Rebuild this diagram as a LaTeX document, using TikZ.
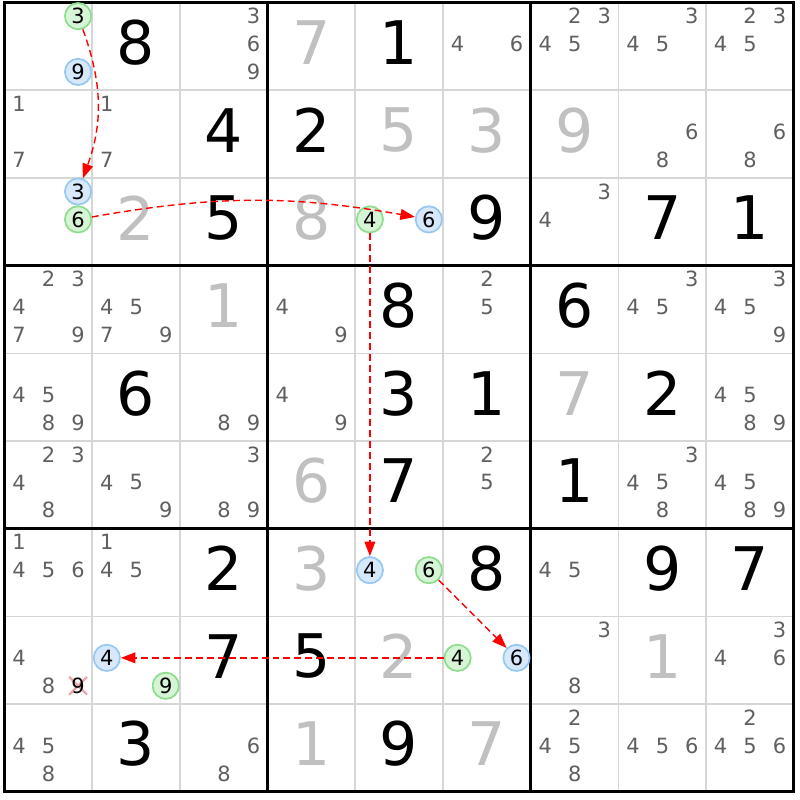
\documentclass[tikz,border=0pt]{standalone}
\usepackage{fontspec}
\setmainfont{DejaVu Sans}
\usetikzlibrary{arrows.meta,shapes.misc}

\definecolor{solvedgray}{HTML}{C0C0C0}
\definecolor{candgray}{HTML}{5F5F5F}
\definecolor{gridgray}{HTML}{D6D6D6}
\definecolor{greenfill}{HTML}{D6F4D6}
\definecolor{greenline}{HTML}{8EDC8E}
\definecolor{bluefill}{HTML}{D6E8FA}
\definecolor{blueline}{HTML}{96C8F2}
\definecolor{crosspink}{HTML}{F2A0A8}

\begin{document}
\begin{tikzpicture}[x=2cm,y=-2cm,
    given/.style={inner sep=0pt,font=\fontsize{39}{39}\selectfont},
    solved/.style={given,text=solvedgray},
    cand/.style={inner sep=0pt,text=candgray,font=\fontsize{13.6}{14}\selectfont},
    greencand/.style={circle,draw=greenline,fill=greenfill,line width=1.1pt,
        minimum size=0.6cm,inner sep=0pt,font=\fontsize{13.6}{14}\selectfont},
    bluecand/.style={greencand,draw=blueline,fill=bluefill},
    gonecand/.style={cross out,draw=crosspink,line width=1.4pt,minimum size=0.36cm,inner sep=0pt},
    link/.style={red,line width=0.9pt,dash pattern=on 4.5pt off 2.6pt,
        -{Triangle[length=9.5pt,width=7pt]}}]
    \useasboundingbox (-0.051,-0.029) rectangle (9.071,9.094);
    % thin cell lines, then box lines
    \foreach \i in {1,2,4,5,7,8} {
        \draw[gridgray,line width=1pt] (\i,0) -- (\i,9);
        \draw[gridgray,line width=1pt] (0,\i) -- (9,\i);
    }
    \foreach \i in {3,6} {
        \draw[line width=2pt] (\i,0) -- (\i,9);
        \draw[line width=2pt] (0,\i) -- (9,\i);
    }
    \draw[line width=2pt] (0,0) rectangle (9,9);
    % givens and solved cells
    \foreach \r/\c/\v in {0/1/8,0/4/1,1/2/4,1/3/2,2/2/5,2/5/9,2/7/7,2/8/1,3/4/8,3/6/6,
        4/1/6,4/4/3,4/5/1,4/7/2,5/4/7,5/6/1,6/2/2,6/5/8,6/7/9,6/8/7,7/2/7,7/3/5,8/1/3,8/4/9}
        \node[given] at (\c+0.5,\r+0.455) {\v};
    \foreach \r/\c/\v in {0/3/7,1/4/5,1/5/3,1/6/9,2/1/2,2/3/8,3/2/1,4/6/7,5/3/6,6/3/3,
        7/4/2,7/7/1,8/3/1,8/5/7}
        \node[solved] at (\c+0.5,\r+0.455) {\v};
    % pencil marks
    \foreach \r/\c/\ds in {0/2/{3,6,9},0/5/{4,6},0/6/{2,3,4,5},0/7/{3,4,5},0/8/{2,3,4,5},
        1/0/{1,7},1/1/{1,7},1/7/{6,8},1/8/{6,8},2/6/{3,4},
        3/0/{2,3,4,7,9},3/1/{4,5,7,9},3/3/{4,9},3/5/{2,5},3/7/{3,4,5},3/8/{3,4,5,9},
        4/0/{4,5,8,9},4/2/{8,9},4/3/{4,9},4/8/{4,5,8,9},
        5/0/{2,3,4,8},5/1/{4,5,9},5/2/{3,8,9},5/5/{2,5},5/7/{3,4,5,8},5/8/{4,5,8,9},
        6/0/{1,4,5,6},6/1/{1,4,5},6/6/{4,5},7/0/{4,8},7/6/{3,8},7/8/{3,4,6},
        8/0/{4,5,8},8/2/{6,8},8/6/{2,4,5,8},8/7/{4,5,6},8/8/{2,4,5,6}}
        \foreach \d in \ds {
            \pgfmathsetmacro{\cx}{\c+0.167+0.336*mod(\d-1,3)}
            \pgfmathsetmacro{\cy}{\r+0.155+0.318*floor((\d-1)/3)}
            \node[cand] at (\cx,\cy) {\d};
        }
    % chain candidates
    \node[greencand] (gthree) at (0.839,0.155) {3};
    \node[bluecand] (bnine) at (0.839,0.791) {9};
    \node[bluecand] (bthree) at (0.839,2.155) {3};
    \node[greencand] (gsixa) at (0.839,2.473) {6};
    \node[greencand] (gfoura) at (4.167,2.473) {4};
    \node[bluecand] (bsixa) at (4.839,2.473) {6};
    \node[bluecand] (bfoura) at (4.167,6.473) {4};
    \node[greencand] (gsixb) at (4.839,6.473) {6};
    \node[greencand] (gfourb) at (5.167,7.473) {4};
    \node[bluecand] (bsixb) at (5.839,7.473) {6};
    \node[bluecand] (bfourb) at (1.167,7.473) {4};
    \node[greencand] (gnine) at (1.839,7.791) {9};
    \node[gonecand] (xnine) at (0.839,7.791) {};
    \node[inner sep=0pt,font=\fontsize{13.6}{14}\selectfont] at (xnine) {9};
    % links
    \draw[link] (gthree) to[bend left=20] (bthree);
    \draw[link] (gsixa) to[bend left=10] (bsixa);
    \draw[link] (gfoura) -- (bfoura);
    \draw[link] (gsixb) -- (bsixb);
    \draw[link] (gfourb) -- (bfourb);
\end{tikzpicture}
\end{document}
